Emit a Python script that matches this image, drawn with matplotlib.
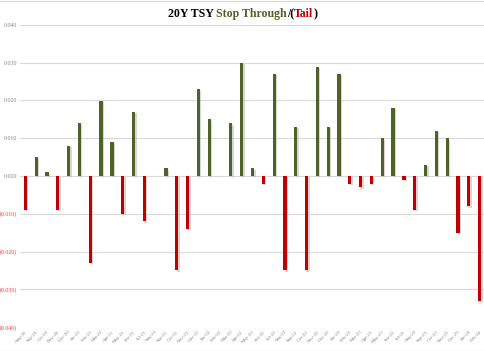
import matplotlib
matplotlib.use('Agg')
from matplotlib import pyplot as plt
from matplotlib import patheffects as pe
from matplotlib.ticker import FuncFormatter, MultipleLocator
from matplotlib.lines import Line2D

# auction months and stop-through (+) / tail (-)
months = ['Aug-20', 'Sep-20', 'Oct-20', 'Nov-20', 'Dec-20',
          'Jan-21', 'Feb-21', 'Mar-21', 'Apr-21', 'May-21', 'Jun-21', 'Jul-21',
          'Aug-21', 'Sep-21', 'Oct-21', 'Nov-21', 'Dec-21',
          'Jan-22', 'Feb-22', 'Mar-22', 'Apr-22', 'May-22', 'Jun-22', 'Jul-22',
          'Aug-22', 'Sep-22', 'Oct-22', 'Nov-22', 'Dec-22',
          'Jan-23', 'Feb-23', 'Mar-23', 'Apr-23', 'May-23', 'Jun-23', 'Jul-23',
          'Aug-23', 'Sep-23', 'Oct-23', 'Nov-23', 'Dec-23',
          'Jan-24', 'Feb-24']
values = [-0.009, 0.005, 0.001, -0.009, 0.008, 0.014, -0.023, 0.020, 0.009, -0.010,
          0.017, -0.012, 0.000, 0.002, -0.025, -0.014, 0.023, 0.015, 0.000, 0.014,
          0.030, 0.002, -0.002, 0.027, -0.025, 0.013, -0.025, 0.029, 0.013, 0.027,
          -0.002, -0.003, -0.002, 0.010, 0.018, -0.001, -0.009, 0.003, 0.012, 0.010,
          -0.015, -0.008, -0.033]

GREEN = '#4F6228'
RED = '#C00000'
GRID = '#D9D9D9'
SERIF = 'Liberation Serif'

fig = plt.figure(figsize=(4.85, 3.51), dpi=100)
ax = fig.add_axes([20 / 485, 1 - 327 / 351, 1 - 20 / 485, (327 - 25) / 351])

x = list(range(len(values)))
colors = [GREEN if v >= 0 else RED for v in values]
bars = ax.bar(x, values, width=0.3, color=colors, zorder=3)
for b in bars:
    b.set_path_effects([pe.SimplePatchShadow(offset=(1, -1), shadow_rgbFace='#b0b0b0', alpha=0.5),
                        pe.Normal()])

ax.set_xlim(-0.5, len(values) - 0.5)
ax.set_ylim(-0.040, 0.040)
ax.yaxis.set_major_locator(MultipleLocator(0.010))
ax.yaxis.set_major_formatter(FuncFormatter(
    lambda v, p: '({:.3f})'.format(abs(v)) if v < -1e-9 else '{:.3f}'.format(abs(v))))
ax.grid(axis='y', color=GRID, linewidth=0.8, zorder=0)
for s in ax.spines.values():
    s.set_visible(False)
ax.tick_params(length=0)
ax.tick_params(axis='y', pad=2, labelsize=4.2, labelcolor='#808080')
for lab in ax.get_yticklabels():
    lab.set_fontfamily(SERIF)
fig.canvas.draw()
for lab, t in zip(ax.get_yticklabels(), ax.get_yticks()):
    if t < -1e-9:
        lab.set_color('#FF3333')

ax.set_xticks(x)
ax.set_xticklabels(months, rotation=45, ha='right', rotation_mode='anchor',
                   fontsize=3.6, color='#808080', fontfamily=SERIF)
ax.tick_params(axis='x', pad=2)

# multi-coloured title
parts = [('20Y TSY ', 'black'), ('Stop Through', GREEN), ('/(', 'black'),
         ('Tail', RED), (')', 'black')]
fig.canvas.draw()
renderer = fig.canvas.get_renderer()
texts = []
for s, c in parts:
    t = fig.text(0, 0, s, color=c, fontsize=8.6, fontweight='bold', fontfamily=SERIF)
    texts.append(t)
widths = [t.get_window_extent(renderer).width for t in texts]
total = sum(widths)
xpos = (485 / 2 - total / 2)
for t, w in zip(texts, widths):
    t.set_position((xpos / 485, 1 - 17 / 351))
    xpos += w

# chart frame lines
fig.add_artist(Line2D([0, 1], [1 - 0.5 / 351, 1 - 0.5 / 351], color=GRID, linewidth=0.8))
fig.add_artist(Line2D([0, 1], [0.5 / 351, 0.5 / 351], color=GRID, linewidth=0.8))

plt.savefig('out.png', dpi=100)
plt.close()
